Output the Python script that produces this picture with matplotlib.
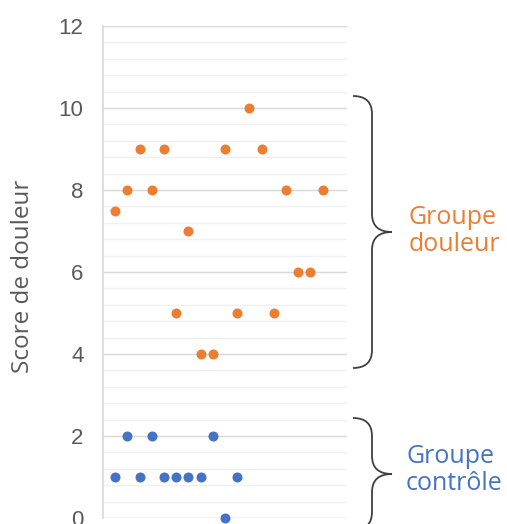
import matplotlib.pyplot as plt
import numpy as np
from matplotlib.path import Path
from matplotlib.patches import PathPatch

# Scores (x = rang du sujet)
x_douleur = [1, 2, 3, 4, 5, 6, 7, 8, 9, 10, 11, 12, 13, 14, 15, 16, 17, 18]
y_douleur = [7.5, 8, 9, 8, 9, 5, 7, 4, 4, 9, 5, 10, 9, 5, 8, 6, 6, 8]
x_controle = [1, 2, 3, 4, 5, 6, 7, 8, 9, 10, 11]
y_controle = [1, 2, 1, 2, 1, 1, 1, 1, 2, 0, 1]

orange = '#ED7D31'
bleu = '#4472C4'
gris = '#595959'

fig = plt.figure(figsize=(5.07, 5.24), dpi=100)
ax = fig.add_axes([103 / 507, 6 / 524, 244 / 507, 492 / 524])

# grille : lignes majeures tous les 2, mineures tous les 0.4
for y in np.arange(0, 12.01, 0.4):
    ax.axhline(y, color='#F0F0F0', lw=1, zorder=0)
for y in np.arange(0, 12.01, 2):
    ax.axhline(y, color='#D9D9D9', lw=1, zorder=1)

ax.scatter(x_douleur, y_douleur, s=52, color=orange, zorder=3, linewidths=0, clip_on=False)
ax.scatter(x_controle, y_controle, s=52, color=bleu, zorder=3, linewidths=0, clip_on=False)

ax.set_xlim(0, 20)
ax.set_ylim(0, 12)
ax.set_xticks([])
ax.set_yticks(np.arange(0, 13, 2))
ax.tick_params(axis='y', length=0, pad=14, labelsize=16, labelcolor=gris)
for lab in ax.get_yticklabels():
    lab.set_fontfamily('Liberation Sans')
for s in ['top', 'right', 'bottom']:
    ax.spines[s].set_visible(False)
ax.spines['left'].set_color('#D9D9D9')
ax.spines['left'].set_linewidth(1.2)

fig.text(23 / 507, 1 - 276 / 524, 'Score de douleur', rotation=90, ha='center', va='center',
         fontsize=17.5, color=gris, family=['Open Sans', 'DejaVu Sans'])


# accolades en pixels de la figure
def accolade(y0, y1, xg=353, xm=372, xd=392):
    ym = (y0 + y1) / 2
    verts = [(xg, y0), (xm, y0), (xm, y0 + 18), (xm, y0 + 18),
             (xm, ym - 18), (xm, ym), (xd, ym),
             (xm, ym), (xm, ym + 18), (xm, ym + 18),
             (xm, y1 - 18), (xm, y1), (xg, y1)]
    codes = [Path.MOVETO, Path.CURVE3, Path.CURVE3, Path.LINETO,
             Path.LINETO, Path.CURVE3, Path.CURVE3,
             Path.CURVE3, Path.CURVE3, Path.LINETO,
             Path.LINETO, Path.CURVE3, Path.CURVE3]
    verts = [(x / 507, 1 - y / 524) for x, y in verts]
    p = PathPatch(Path(verts, codes), fill=False, edgecolor='#404040', lw=1.3,
                  transform=fig.transFigure, clip_on=False)
    fig.add_artist(p)


accolade(96, 368)
accolade(418, 530)

fig.text(409 / 507, 1 - 231 / 524, 'Groupe\ndouleur', ha='left', va='center', fontsize=18,
         color=orange, family=['Open Sans', 'DejaVu Sans'], linespacing=1.1)
fig.text(406 / 507, 1 - 470 / 524, 'Groupe\ncontrôle', ha='left', va='center', fontsize=18,
         color=bleu, family=['Open Sans', 'DejaVu Sans'], linespacing=1.1)

fig.savefig('out.png', dpi=100)
